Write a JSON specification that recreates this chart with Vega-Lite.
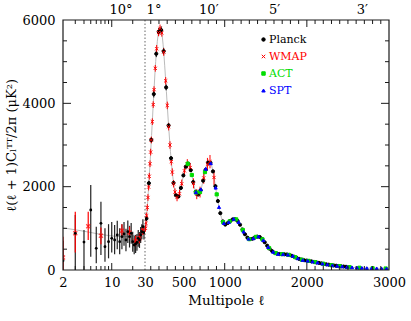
{
  "$schema": "https://vega.github.io/schema/vega-lite/v6.json",
  "padding": {"left": 5, "top": 3, "right": 5, "bottom": 5},
  "spacing": 0,
  "bounds": "flush",
  "config": {
    "font": "DejaVu Serif",
    "view": {"stroke": null},
    "axis": {"labelFont": "DejaVu Serif", "titleFont": "DejaVu Serif", "labelFontSize": 13, "labelColor": "black", "titleColor": "black", "domain": false, "ticks": false, "labelOverlap": false, "labelFlush": false, "grid": false, "titleFontWeight": "normal"},
    "legend": {"labelFont": "DejaVu Serif"}
  },
  "datasets": {
    "model": [
      {"l": 2, "D": 1010}, {"l": 3, "D": 965}, {"l": 4, "D": 930}, {"l": 5, "D": 900}, {"l": 6, "D": 875}, {"l": 7, "D": 855}, {"l": 8, "D": 840}, {"l": 9, "D": 828}, {"l": 10, "D": 818}, {"l": 12, "D": 805}, {"l": 14, "D": 800}, {"l": 16, "D": 802}, {"l": 18, "D": 810}, {"l": 20, "D": 822}, {"l": 22, "D": 838}, {"l": 24, "D": 857}, {"l": 26, "D": 878}, {"l": 28, "D": 900},
      {"l": 30, "D": 920}, {"l": 40, "D": 1080}, {"l": 50, "D": 1300}, {"l": 60, "D": 1560}, {"l": 70, "D": 1860}, {"l": 80, "D": 2180}, {"l": 90, "D": 2520}, {"l": 100, "D": 2870}, {"l": 110, "D": 3230}, {"l": 120, "D": 3600}, {"l": 130, "D": 3970}, {"l": 140, "D": 4330}, {"l": 150, "D": 4680}, {"l": 160, "D": 5000}, {"l": 170, "D": 5270}, {"l": 180, "D": 5490}, {"l": 190, "D": 5650}, {"l": 200, "D": 5750}, {"l": 210, "D": 5800}, {"l": 220, "D": 5800}, {"l": 230, "D": 5740}, {"l": 240, "D": 5610}, {"l": 250, "D": 5420}, {"l": 260, "D": 5180}, {"l": 270, "D": 4900}, {"l": 280, "D": 4600}, {"l": 290, "D": 4290}, {"l": 300, "D": 3980}, {"l": 320, "D": 3380}, {"l": 340, "D": 2840}, {"l": 360, "D": 2390}, {"l": 380, "D": 2040}, {"l": 400, "D": 1820}, {"l": 420, "D": 1740}, {"l": 440, "D": 1770}, {"l": 460, "D": 1900}, {"l": 480, "D": 2100}, {"l": 500, "D": 2300}, {"l": 520, "D": 2450}, {"l": 540, "D": 2540}, {"l": 560, "D": 2550}, {"l": 580, "D": 2460}, {"l": 600, "D": 2280}, {"l": 620, "D": 2080}, {"l": 640, "D": 1910}, {"l": 660, "D": 1820}, {"l": 680, "D": 1810}, {"l": 700, "D": 1870}, {"l": 720, "D": 2000}, {"l": 740, "D": 2170}, {"l": 760, "D": 2350}, {"l": 780, "D": 2500}, {"l": 800, "D": 2590}, {"l": 820, "D": 2600}, {"l": 840, "D": 2520}, {"l": 860, "D": 2340}, {"l": 880, "D": 2100}, {"l": 900, "D": 1850}, {"l": 920, "D": 1620}, {"l": 940, "D": 1420}, {"l": 960, "D": 1260}, {"l": 980, "D": 1150}, {"l": 1000, "D": 1100}, {"l": 1020, "D": 1100}, {"l": 1050, "D": 1150}, {"l": 1080, "D": 1200}, {"l": 1110, "D": 1225}, {"l": 1140, "D": 1215}, {"l": 1170, "D": 1150}, {"l": 1200, "D": 1040}, {"l": 1230, "D": 920}, {"l": 1260, "D": 810}, {"l": 1290, "D": 750}, {"l": 1320, "D": 735}, {"l": 1350, "D": 760}, {"l": 1380, "D": 795}, {"l": 1410, "D": 805}, {"l": 1440, "D": 780}, {"l": 1470, "D": 715}, {"l": 1500, "D": 630}, {"l": 1530, "D": 550}, {"l": 1560, "D": 480}, {"l": 1600, "D": 420}, {"l": 1650, "D": 385}, {"l": 1700, "D": 380}, {"l": 1750, "D": 375}, {"l": 1800, "D": 355}, {"l": 1850, "D": 315}, {"l": 1900, "D": 270}, {"l": 1950, "D": 240}, {"l": 2000, "D": 225}, {"l": 2050, "D": 210}, {"l": 2100, "D": 190}, {"l": 2200, "D": 150}, {"l": 2300, "D": 115}, {"l": 2400, "D": 92}, {"l": 2500, "D": 72}, {"l": 2600, "D": 58}, {"l": 2700, "D": 48}, {"l": 2800, "D": 42}, {"l": 2900, "D": 37}, {"l": 3000, "D": 34}
    ],
    "frameL": [{"k": 1, "l": 30, "D": 6000}, {"k": 2, "l": 2, "D": 6000}, {"k": 3, "l": 2, "D": 0}, {"k": 4, "l": 30, "D": 0}],
    "frameR": [{"k": 1, "l": 30, "D": 6000}, {"k": 2, "l": 3000, "D": 6000}, {"k": 3, "l": 3000, "D": 0}, {"k": 4, "l": 30, "D": 0}],
    "cut": [{"l": 30, "D": 0}, {"l": 30, "D": 6000}],
    "xtL": [{"l": 3, "m": 0}, {"l": 4, "m": 0}, {"l": 5, "m": 0}, {"l": 6, "m": 0}, {"l": 7, "m": 0}, {"l": 8, "m": 0}, {"l": 9, "m": 0}, {"l": 10, "m": 1}, {"l": 20, "m": 0}],
    "xtR": [{"l": 100, "m": 0}, {"l": 200, "m": 0}, {"l": 300, "m": 0}, {"l": 400, "m": 0}, {"l": 500, "m": 0}, {"l": 600, "m": 0}, {"l": 700, "m": 0}, {"l": 800, "m": 0}, {"l": 900, "m": 0}, {"l": 1000, "m": 1}, {"l": 1100, "m": 0}, {"l": 1200, "m": 0}, {"l": 1300, "m": 0}, {"l": 1400, "m": 0}, {"l": 1500, "m": 0}, {"l": 1600, "m": 0}, {"l": 1700, "m": 0}, {"l": 1800, "m": 0}, {"l": 1900, "m": 0}, {"l": 2000, "m": 1}, {"l": 2100, "m": 0}, {"l": 2200, "m": 0}, {"l": 2300, "m": 0}, {"l": 2400, "m": 0}, {"l": 2500, "m": 0}, {"l": 2600, "m": 0}, {"l": 2700, "m": 0}, {"l": 2800, "m": 0}, {"l": 2900, "m": 0}],
    "yt": [{"D": 500, "m": 0}, {"D": 1000, "m": 0}, {"D": 1500, "m": 0}, {"D": 2000, "m": 1}, {"D": 2500, "m": 0}, {"D": 3000, "m": 0}, {"D": 3500, "m": 0}, {"D": 4000, "m": 1}, {"D": 4500, "m": 0}, {"D": 5000, "m": 0}, {"D": 5500, "m": 0}],
    "lowP": [
      {"l": 2, "D": 220, "lo": 0, "hi": 700}, {"l": 3, "D": 880, "lo": 0, "hi": 1320}, {"l": 4, "D": 670, "lo": 0, "hi": 960}, {"l": 5, "D": 1440, "lo": 320, "hi": 2040}, {"l": 6, "D": 520, "lo": 160, "hi": 1040}, {"l": 7, "D": 1120, "lo": 360, "hi": 1640}, {"l": 8, "D": 560, "lo": 200, "hi": 1000}, {"l": 9, "D": 680, "lo": 280, "hi": 1100}, {"l": 10, "D": 760, "lo": 420, "hi": 1150}, {"l": 11, "D": 720, "lo": 380, "hi": 1080}, {"l": 12, "D": 840, "lo": 500, "hi": 1180}, {"l": 13, "D": 680, "lo": 380, "hi": 1000}, {"l": 14, "D": 800, "lo": 500, "hi": 1100}, {"l": 15, "D": 864, "lo": 580, "hi": 1150}, {"l": 16, "D": 720, "lo": 450, "hi": 990}, {"l": 17, "D": 920, "lo": 650, "hi": 1190}, {"l": 18, "D": 800, "lo": 540, "hi": 1060}, {"l": 19, "D": 880, "lo": 630, "hi": 1130}, {"l": 20, "D": 680, "lo": 440, "hi": 920}, {"l": 21, "D": 600, "lo": 380, "hi": 820}, {"l": 22, "D": 624, "lo": 410, "hi": 840}, {"l": 23, "D": 660, "lo": 460, "hi": 860}, {"l": 24, "D": 760, "lo": 560, "hi": 960}, {"l": 25, "D": 720, "lo": 530, "hi": 910}, {"l": 26, "D": 840, "lo": 650, "hi": 1030}, {"l": 27, "D": 920, "lo": 740, "hi": 1100}, {"l": 28, "D": 1040, "lo": 860, "hi": 1220}, {"l": 29, "D": 900, "lo": 730, "hi": 1070}
    ],
    "lowW": [
      {"l": 2, "D": 300, "lo": 0, "hi": 800}, {"l": 3, "D": 880, "lo": 420, "hi": 1400}, {"l": 4.6, "D": 1050, "lo": 720, "hi": 1400}, {"l": 7, "D": 820, "lo": 620, "hi": 1020}, {"l": 14, "D": 940, "lo": 780, "hi": 1100}, {"l": 18, "D": 900, "lo": 760, "hi": 1040}, {"l": 22, "D": 700, "lo": 580, "hi": 820}, {"l": 25, "D": 760, "lo": 640, "hi": 880}, {"l": 28, "D": 950, "lo": 840, "hi": 1060}
    ],
    "pts": [
      {"series": "Planck", "l": 47, "D": 1234, "err": 60}, {"series": "Planck", "l": 77, "D": 2084, "err": 60}, {"series": "Planck", "l": 107, "D": 3122, "err": 70}, {"series": "Planck", "l": 137, "D": 4222, "err": 80}, {"series": "Planck", "l": 167, "D": 5189, "err": 80}, {"series": "Planck", "l": 197, "D": 5720, "err": 90}, {"series": "Planck", "l": 227, "D": 5758, "err": 90}, {"series": "Planck", "l": 257, "D": 5252, "err": 80}, {"series": "Planck", "l": 287, "D": 4383, "err": 70}, {"series": "Planck", "l": 317, "D": 3470, "err": 60}, {"series": "Planck", "l": 347, "D": 2683, "err": 50}, {"series": "Planck", "l": 377, "D": 2090, "err": 40}, {"series": "Planck", "l": 407, "D": 1792, "err": 40}, {"series": "Planck", "l": 437, "D": 1765, "err": 40}, {"series": "Planck", "l": 467, "D": 1970, "err": 40}, {"series": "Planck", "l": 497, "D": 2270, "err": 40}, {"series": "Planck", "l": 527, "D": 2480, "err": 40}, {"series": "Planck", "l": 557, "D": 2550, "err": 40}, {"series": "Planck", "l": 587, "D": 2397, "err": 40}, {"series": "Planck", "l": 617, "D": 2110, "err": 40}, {"series": "Planck", "l": 647, "D": 1878, "err": 40}, {"series": "Planck", "l": 677, "D": 1812, "err": 40}, {"series": "Planck", "l": 707, "D": 1915, "err": 40}, {"series": "Planck", "l": 737, "D": 2145, "err": 40}, {"series": "Planck", "l": 767, "D": 2402, "err": 40}, {"series": "Planck", "l": 797, "D": 2576, "err": 40}, {"series": "Planck", "l": 827, "D": 2572, "err": 40}, {"series": "Planck", "l": 857, "D": 2367, "err": 40}, {"series": "Planck", "l": 887, "D": 2012, "err": 40}, {"series": "Planck", "l": 917, "D": 1655, "err": 40}, {"series": "Planck", "l": 947, "D": 1364, "err": 30}, {"series": "Planck", "l": 977, "D": 1166, "err": 30}, {"series": "Planck", "l": 1007, "D": 1090, "err": 30}, {"series": "Planck", "l": 1037, "D": 1128, "err": 30}, {"series": "Planck", "l": 1067, "D": 1178, "err": 30}, {"series": "Planck", "l": 1097, "D": 1214, "err": 30}, {"series": "Planck", "l": 1127, "D": 1219, "err": 30}, {"series": "Planck", "l": 1157, "D": 1178, "err": 30}, {"series": "Planck", "l": 1187, "D": 1087, "err": 30}, {"series": "Planck", "l": 1217, "D": 972, "err": 30}, {"series": "Planck", "l": 1247, "D": 858, "err": 25}, {"series": "Planck", "l": 1277, "D": 776, "err": 25}, {"series": "Planck", "l": 1307, "D": 742, "err": 25}, {"series": "Planck", "l": 1337, "D": 749, "err": 25}, {"series": "Planck", "l": 1367, "D": 780, "err": 25}, {"series": "Planck", "l": 1397, "D": 800, "err": 25}, {"series": "Planck", "l": 1427, "D": 791, "err": 25}, {"series": "Planck", "l": 1457, "D": 743, "err": 25}, {"series": "Planck", "l": 1487, "D": 667, "err": 25}, {"series": "Planck", "l": 1517, "D": 584, "err": 20}, {"series": "Planck", "l": 1547, "D": 510, "err": 20}, {"series": "Planck", "l": 1577, "D": 454, "err": 20}, {"series": "Planck", "l": 1607, "D": 415, "err": 20}, {"series": "Planck", "l": 1637, "D": 394, "err": 20}, {"series": "Planck", "l": 1667, "D": 383, "err": 20}, {"series": "Planck", "l": 1697, "D": 380, "err": 20}, {"series": "Planck", "l": 1727, "D": 378, "err": 20}, {"series": "Planck", "l": 1757, "D": 372, "err": 20}, {"series": "Planck", "l": 1787, "D": 360, "err": 20}, {"series": "Planck", "l": 1817, "D": 341, "err": 20}, {"series": "Planck", "l": 1847, "D": 317, "err": 20}, {"series": "Planck", "l": 1877, "D": 291, "err": 20}, {"series": "Planck", "l": 1907, "D": 266, "err": 20}, {"series": "Planck", "l": 1937, "D": 248, "err": 20}, {"series": "Planck", "l": 1967, "D": 235, "err": 20}, {"series": "Planck", "l": 1997, "D": 226, "err": 20}, {"series": "Planck", "l": 2027, "D": 217, "err": 20}, {"series": "Planck", "l": 2057, "D": 207, "err": 20}, {"series": "Planck", "l": 2087, "D": 195, "err": 20}, {"series": "Planck", "l": 2117, "D": 183, "err": 20}, {"series": "Planck", "l": 2147, "D": 171, "err": 20}, {"series": "Planck", "l": 2177, "D": 159, "err": 20}, {"series": "Planck", "l": 2207, "D": 147, "err": 20}, {"series": "Planck", "l": 2237, "D": 137, "err": 20}, {"series": "Planck", "l": 2267, "D": 127, "err": 20}, {"series": "Planck", "l": 2297, "D": 116, "err": 20}, {"series": "Planck", "l": 2327, "D": 109, "err": 20}, {"series": "Planck", "l": 2357, "D": 102, "err": 20}, {"series": "Planck", "l": 2387, "D": 95, "err": 20}, {"series": "Planck", "l": 2417, "D": 89, "err": 20}, {"series": "Planck", "l": 2447, "D": 83, "err": 20}, {"series": "Planck", "l": 2477, "D": 77, "err": 20},
      {"series": "WMAP", "l": 36, "D": 1000, "err": 80}, {"series": "WMAP", "l": 42, "D": 1120, "err": 80}, {"series": "WMAP", "l": 50, "D": 1300, "err": 80}, {"series": "WMAP", "l": 58, "D": 1500, "err": 80}, {"series": "WMAP", "l": 66, "D": 1740, "err": 80}, {"series": "WMAP", "l": 74, "D": 1990, "err": 80}, {"series": "WMAP", "l": 82, "D": 2250, "err": 80}, {"series": "WMAP", "l": 91, "D": 2550, "err": 80}, {"series": "WMAP", "l": 99, "D": 2830, "err": 80}, {"series": "WMAP", "l": 107, "D": 3120, "err": 80}, {"series": "WMAP", "l": 119, "D": 3560, "err": 80}, {"series": "WMAP", "l": 130, "D": 3970, "err": 80}, {"series": "WMAP", "l": 140, "D": 4330, "err": 80}, {"series": "WMAP", "l": 155, "D": 4840, "err": 80}, {"series": "WMAP", "l": 172, "D": 5310, "err": 90}, {"series": "WMAP", "l": 195, "D": 5700, "err": 90}, {"series": "WMAP", "l": 213, "D": 5800, "err": 90}, {"series": "WMAP", "l": 235, "D": 5690, "err": 90}, {"series": "WMAP", "l": 258, "D": 5230, "err": 90}, {"series": "WMAP", "l": 282, "D": 4540, "err": 90}, {"series": "WMAP", "l": 301, "D": 3950, "err": 90}, {"series": "WMAP", "l": 318, "D": 3440, "err": 90}, {"series": "WMAP", "l": 334, "D": 3000, "err": 90}, {"series": "WMAP", "l": 350, "D": 2600, "err": 90}, {"series": "WMAP", "l": 362, "D": 2350, "err": 90}, {"series": "WMAP", "l": 378, "D": 2070, "err": 90}, {"series": "WMAP", "l": 395, "D": 1870, "err": 90}, {"series": "WMAP", "l": 420, "D": 1740, "err": 90}, {"series": "WMAP", "l": 450, "D": 1830, "err": 100}, {"series": "WMAP", "l": 477, "D": 2070, "err": 100}, {"series": "WMAP", "l": 510, "D": 2380, "err": 100}, {"series": "WMAP", "l": 545, "D": 2550, "err": 110}, {"series": "WMAP", "l": 580, "D": 2460, "err": 110}, {"series": "WMAP", "l": 620, "D": 2080, "err": 120}, {"series": "WMAP", "l": 660, "D": 1820, "err": 120}, {"series": "WMAP", "l": 700, "D": 1870, "err": 130}, {"series": "WMAP", "l": 745, "D": 2210, "err": 140}, {"series": "WMAP", "l": 790, "D": 2540, "err": 150}, {"series": "WMAP", "l": 821, "D": 2600, "err": 160}, {"series": "WMAP", "l": 870, "D": 2220, "err": 180},
      {"series": "ACT", "l": 550, "D": 2550, "err": 60}, {"series": "ACT", "l": 600, "D": 2280, "err": 50}, {"series": "ACT", "l": 650, "D": 1860, "err": 50}, {"series": "ACT", "l": 700, "D": 1870, "err": 40}, {"series": "ACT", "l": 760, "D": 2350, "err": 40}, {"series": "ACT", "l": 903, "D": 1815, "err": 40}, {"series": "ACT", "l": 980, "D": 1150, "err": 30}, {"series": "ACT", "l": 1060, "D": 1167, "err": 30}, {"series": "ACT", "l": 1140, "D": 1215, "err": 30}, {"series": "ACT", "l": 1220, "D": 960, "err": 30}, {"series": "ACT", "l": 1300, "D": 740, "err": 25}, {"series": "ACT", "l": 1380, "D": 795, "err": 25}, {"series": "ACT", "l": 1460, "D": 736, "err": 25}, {"series": "ACT", "l": 1540, "D": 527, "err": 20}, {"series": "ACT", "l": 1620, "D": 406, "err": 20}, {"series": "ACT", "l": 1700, "D": 380, "err": 20}, {"series": "ACT", "l": 1780, "D": 363, "err": 20}, {"series": "ACT", "l": 1860, "D": 306, "err": 20}, {"series": "ACT", "l": 1940, "D": 247, "err": 20}, {"series": "ACT", "l": 2020, "D": 219, "err": 20}, {"series": "ACT", "l": 2100, "D": 190, "err": 20}, {"series": "ACT", "l": 2200, "D": 150, "err": 20}, {"series": "ACT", "l": 2300, "D": 115, "err": 20}, {"series": "ACT", "l": 2400, "D": 92, "err": 20}, {"series": "ACT", "l": 2520, "D": 69, "err": 20}, {"series": "ACT", "l": 2640, "D": 54, "err": 20}, {"series": "ACT", "l": 2800, "D": 42, "err": 20}, {"series": "ACT", "l": 2960, "D": 36, "err": 20},
      {"series": "SPT", "l": 650, "D": 1865, "err": 50}, {"series": "SPT", "l": 710, "D": 1935, "err": 40}, {"series": "SPT", "l": 770, "D": 2425, "err": 40}, {"series": "SPT", "l": 830, "D": 2560, "err": 40}, {"series": "SPT", "l": 890, "D": 1975, "err": 40}, {"series": "SPT", "l": 931, "D": 1510, "err": 30}, {"series": "SPT", "l": 990, "D": 1125, "err": 30}, {"series": "SPT", "l": 1050, "D": 1150, "err": 30}, {"series": "SPT", "l": 1110, "D": 1225, "err": 30}, {"series": "SPT", "l": 1170, "D": 1150, "err": 30}, {"series": "SPT", "l": 1230, "D": 920, "err": 25}, {"series": "SPT", "l": 1290, "D": 750, "err": 25}, {"series": "SPT", "l": 1350, "D": 760, "err": 25}, {"series": "SPT", "l": 1410, "D": 805, "err": 25}, {"series": "SPT", "l": 1470, "D": 715, "err": 25}, {"series": "SPT", "l": 1530, "D": 550, "err": 20}, {"series": "SPT", "l": 1590, "D": 435, "err": 20}, {"series": "SPT", "l": 1650, "D": 385, "err": 20}, {"series": "SPT", "l": 1710, "D": 379, "err": 20}, {"series": "SPT", "l": 1770, "D": 367, "err": 20}, {"series": "SPT", "l": 1830, "D": 339, "err": 20}, {"series": "SPT", "l": 1890, "D": 279, "err": 20}, {"series": "SPT", "l": 1950, "D": 240, "err": 20}, {"series": "SPT", "l": 2010, "D": 222, "err": 20}, {"series": "SPT", "l": 2070, "D": 202, "err": 20}, {"series": "SPT", "l": 2130, "D": 178, "err": 20}, {"series": "SPT", "l": 2190, "D": 154, "err": 20}, {"series": "SPT", "l": 2250, "D": 133, "err": 20}, {"series": "SPT", "l": 2310, "D": 113, "err": 20}, {"series": "SPT", "l": 2370, "D": 98, "err": 20}, {"series": "SPT", "l": 2430, "D": 86, "err": 20}, {"series": "SPT", "l": 2490, "D": 74, "err": 20}, {"series": "SPT", "l": 2550, "D": 65, "err": 20}, {"series": "SPT", "l": 2610, "D": 57, "err": 20}, {"series": "SPT", "l": 2670, "D": 51, "err": 20}, {"series": "SPT", "l": 2730, "D": 46, "err": 20}, {"series": "SPT", "l": 2790, "D": 43, "err": 20}, {"series": "SPT", "l": 2850, "D": 40, "err": 20}, {"series": "SPT", "l": 2910, "D": 37, "err": 20}, {"series": "SPT", "l": 2970, "D": 35, "err": 20}
    ]
  },
  "hconcat": [
    {
      "width": 82,
      "height": 250,
      "resolve": {"axis": {"x": "independent", "y": "independent"}},
      "layer": [
        {
          "data": {"name": "model"},
          "transform": [{"filter": "datum.l <= 30"}],
          "mark": {"type": "line", "color": "#bbbbbb", "strokeWidth": 1, "clip": true},
          "encoding": {
            "x": {"field": "l", "type": "quantitative", "scale": {"type": "log", "domain": [2, 30], "nice": false},
              "axis": {"orient": "bottom", "values": [2, 10, 30], "format": "d", "labelFontSize": 13, "labelPadding": 6, "title": null}},
            "y": {"field": "D", "type": "quantitative", "scale": {"domain": [0, 6000], "nice": false},
              "axis": {"orient": "left", "values": [0, 2000, 4000, 6000], "format": "d", "labelFontSize": 13, "labelPadding": 8, "title": "ℓ(ℓ + 1)Cₗᵀᵀ/2π (μK²)", "titleFontSize": 13, "titlePadding": 3}}
          }
        },
        {
          "data": {"name": "cut"},
          "mark": {"type": "line", "color": "#666666", "strokeDash": [1.5, 2], "strokeWidth": 1},
          "encoding": {
            "x": {"field": "l", "type": "quantitative", "scale": {"type": "log", "domain": [2, 30], "nice": false},
              "axis": {"orient": "top", "values": [13.35], "labelExpr": "'10°'", "labelFontSize": 13, "labelPadding": 4, "title": null}},
            "y": {"field": "D", "type": "quantitative", "scale": {"domain": [0, 6000], "nice": false}, "axis": null}
          }
        },
        {
          "data": {"name": "lowP"},
          "mark": {"type": "rule", "color": "#222222", "strokeWidth": 1.2, "clip": true},
          "encoding": {
            "x": {"field": "l", "type": "quantitative", "axis": null},
            "y": {"field": "lo", "type": "quantitative", "axis": null},
            "y2": {"field": "hi"}
          }
        },
        {
          "data": {"name": "lowW"},
          "mark": {"type": "rule", "color": "#ff0000", "strokeWidth": 1.2, "clip": true},
          "encoding": {
            "x": {"field": "l", "type": "quantitative", "axis": null},
            "y": {"field": "lo", "type": "quantitative", "axis": null},
            "y2": {"field": "hi"}
          }
        },
        {
          "data": {"name": "lowW"},
          "mark": {"type": "point", "shape": "M-1,-1L1,1M-1,1L1,-1", "stroke": "#ff0000", "strokeWidth": 1.3, "size": 16, "clip": true},
          "encoding": {
            "x": {"field": "l", "type": "quantitative", "axis": null},
            "y": {"field": "D", "type": "quantitative", "axis": null}
          }
        },
        {
          "data": {"name": "lowP"},
          "mark": {"type": "point", "shape": "circle", "filled": true, "color": "#000000", "size": 8, "opacity": 1, "clip": true},
          "encoding": {
            "x": {"field": "l", "type": "quantitative", "axis": null},
            "y": {"field": "D", "type": "quantitative", "axis": null}
          }
        },
        {
          "data": {"name": "xtL"},
          "mark": {"type": "tick", "orient": "vertical", "color": "#1a1a1a", "thickness": 1, "opacity": 1, "clip": true},
          "encoding": {
            "x": {"field": "l", "type": "quantitative", "axis": null},
            "y": {"datum": 0, "type": "quantitative", "axis": null},
            "size": {"condition": {"test": "datum.m == 1", "value": 14}, "value": 8}
          }
        },
        {
          "data": {"name": "xtL"},
          "mark": {"type": "tick", "orient": "vertical", "color": "#1a1a1a", "thickness": 1, "opacity": 1, "clip": true},
          "encoding": {
            "x": {"field": "l", "type": "quantitative", "axis": null},
            "y": {"datum": 6000, "type": "quantitative", "axis": null},
            "size": {"condition": {"test": "datum.m == 1", "value": 14}, "value": 8}
          }
        },
        {
          "data": {"name": "yt"},
          "mark": {"type": "tick", "orient": "horizontal", "color": "#1a1a1a", "thickness": 1, "opacity": 1, "clip": true},
          "encoding": {
            "x": {"datum": 2, "type": "quantitative", "axis": null},
            "y": {"field": "D", "type": "quantitative", "axis": null},
            "size": {"condition": {"test": "datum.m == 1", "value": 16}, "value": 8}
          }
        },
        {
          "data": {"name": "frameL"},
          "mark": {"type": "line", "color": "#1a1a1a", "strokeWidth": 1.2},
          "encoding": {
            "x": {"field": "l", "type": "quantitative", "axis": null},
            "y": {"field": "D", "type": "quantitative", "axis": null},
            "order": {"field": "k"}
          }
        }
      ]
    },
    {
      "width": 244,
      "height": 250,
      "resolve": {"axis": {"x": "independent", "y": "independent"}},
      "layer": [
        {
          "data": {"name": "model"},
          "transform": [{"filter": "datum.l >= 30"}],
          "mark": {"type": "line", "color": "#bbbbbb", "strokeWidth": 1, "clip": true},
          "encoding": {
            "x": {"field": "l", "type": "quantitative", "scale": {"domain": [30, 3000], "nice": false, "zero": false},
              "axis": {"orient": "bottom", "values": [500, 1000, 2000, 3000], "format": "d", "labelFontSize": 13, "labelPadding": 6, "title": "Multipole ℓ", "titleFontSize": 13.5, "titleX": 81, "titleAlign": "center", "titlePadding": 4}},
            "y": {"field": "D", "type": "quantitative", "scale": {"domain": [0, 6000], "nice": false}, "axis": null}
          }
        },
        {
          "data": {"name": "pts"},
          "transform": [{"filter": "datum.series == 'Planck'"}],
          "mark": {"type": "errorbar", "ticks": false, "thickness": 1, "color": "#000000", "clip": true},
          "encoding": {
            "x": {"field": "l", "type": "quantitative", "axis": null},
            "y": {"field": "D", "type": "quantitative", "axis": null},
            "yError": {"field": "err"}
          }
        },
        {
          "data": {"name": "pts"},
          "transform": [{"filter": "datum.series == 'WMAP'"}],
          "mark": {"type": "errorbar", "ticks": false, "thickness": 1, "color": "#ff0000", "clip": true},
          "encoding": {
            "x": {"field": "l", "type": "quantitative", "axis": null},
            "y": {"field": "D", "type": "quantitative", "axis": null},
            "yError": {"field": "err"}
          }
        },
        {
          "data": {"name": "pts"},
          "transform": [{"filter": "datum.series == 'ACT'"}],
          "mark": {"type": "errorbar", "ticks": false, "thickness": 1, "color": "#00dd00", "clip": true},
          "encoding": {
            "x": {"field": "l", "type": "quantitative", "axis": null},
            "y": {"field": "D", "type": "quantitative", "axis": null},
            "yError": {"field": "err"}
          }
        },
        {
          "data": {"name": "pts"},
          "transform": [{"filter": "datum.series == 'SPT'"}],
          "mark": {"type": "errorbar", "ticks": false, "thickness": 1, "color": "#0000ff", "clip": true},
          "encoding": {
            "x": {"field": "l", "type": "quantitative", "axis": null},
            "y": {"field": "D", "type": "quantitative", "axis": null},
            "yError": {"field": "err"}
          }
        },
        {
          "data": {"name": "pts"},
          "mark": {"type": "point", "filled": true, "size": 10, "strokeWidth": 1, "opacity": 1, "clip": true},
          "encoding": {
            "x": {"field": "l", "type": "quantitative",
              "axis": {"orient": "top", "values": [133.5, 801, 1602, 2670], "labelExpr": "datum.value < 200 ? '1°' : datum.value < 1000 ? '10′' : datum.value < 2000 ? '5′' : '3′'", "labelFontSize": 13, "labelPadding": 4, "title": null}},
            "y": {"field": "D", "type": "quantitative", "axis": null},
            "color": {"field": "series", "type": "nominal", "scale": {"domain": ["Planck", "WMAP", "ACT", "SPT"], "range": ["#000000", "#ff0000", "#00dd00", "#0000ff"]},
              "legend": {"title": null, "orient": "none", "legendX": 195, "legendY": 14, "labelFontSize": 11, "symbolSize": 12, "rowPadding": 5, "labelOffset": 0, "symbolStrokeWidth": 1,
                "labelColor": {"expr": "datum.label == 'Planck' ? '#000000' : datum.label == 'WMAP' ? '#ff0000' : datum.label == 'ACT' ? '#00dd00' : '#0000ff'"}}},
            "stroke": {"field": "series", "type": "nominal", "scale": {"domain": ["Planck", "WMAP", "ACT", "SPT"], "range": ["#000000", "#ff0000", "#00dd00", "#0000ff"]}},
            "shape": {"field": "series", "type": "nominal", "scale": {"domain": ["Planck", "WMAP", "ACT", "SPT"], "range": ["circle", "M-1,-1L1,1M-1,1L1,-1", "square", "triangle-up"]}}
          }
        },
        {
          "data": {"name": "xtR"},
          "mark": {"type": "tick", "orient": "vertical", "color": "#1a1a1a", "thickness": 1, "opacity": 1, "clip": true},
          "encoding": {
            "x": {"field": "l", "type": "quantitative", "axis": null},
            "y": {"datum": 0, "type": "quantitative", "axis": null},
            "size": {"condition": {"test": "datum.m == 1", "value": 14}, "value": 8}
          }
        },
        {
          "data": {"name": "xtR"},
          "mark": {"type": "tick", "orient": "vertical", "color": "#1a1a1a", "thickness": 1, "opacity": 1, "clip": true},
          "encoding": {
            "x": {"field": "l", "type": "quantitative", "axis": null},
            "y": {"datum": 6000, "type": "quantitative", "axis": null},
            "size": {"condition": {"test": "datum.m == 1", "value": 14}, "value": 8}
          }
        },
        {
          "data": {"name": "yt"},
          "mark": {"type": "tick", "orient": "horizontal", "color": "#1a1a1a", "thickness": 1, "opacity": 1, "clip": true},
          "encoding": {
            "x": {"datum": 3000, "type": "quantitative", "axis": null},
            "y": {"field": "D", "type": "quantitative", "axis": null},
            "size": {"condition": {"test": "datum.m == 1", "value": 16}, "value": 8}
          }
        },
        {
          "data": {"name": "frameR"},
          "mark": {"type": "line", "color": "#1a1a1a", "strokeWidth": 1.2},
          "encoding": {
            "x": {"field": "l", "type": "quantitative", "axis": null},
            "y": {"field": "D", "type": "quantitative", "axis": null},
            "order": {"field": "k"}
          }
        }
      ]
    }
  ]
}
